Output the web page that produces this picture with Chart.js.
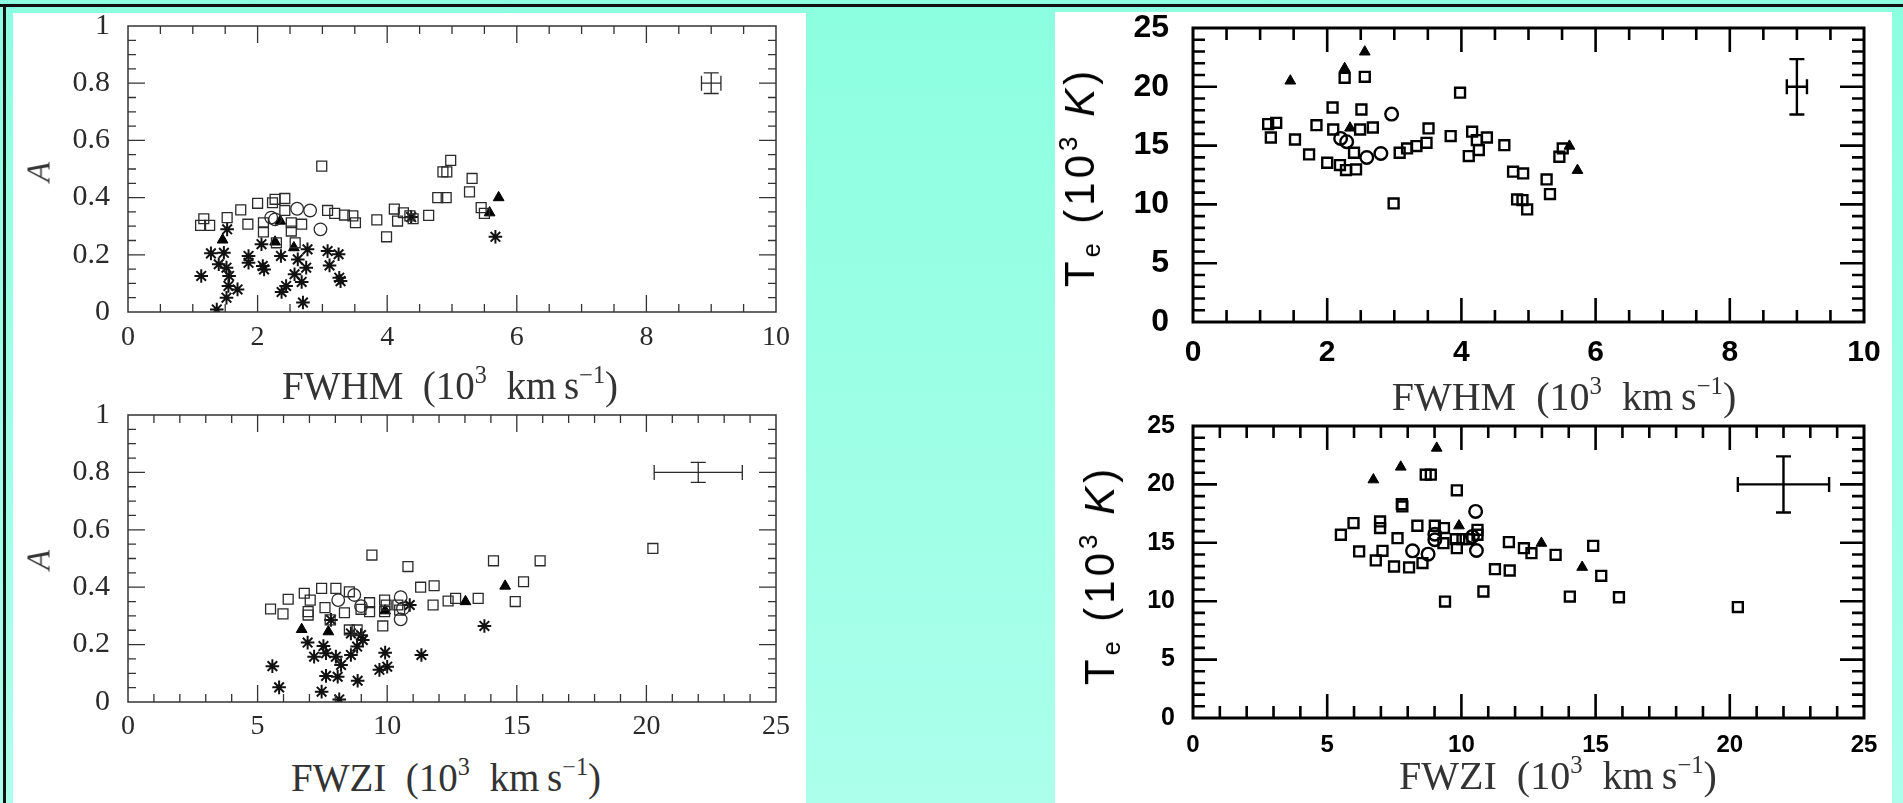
<!DOCTYPE html>
<html>
<head>
<meta charset="utf-8">
<script src="https://cdn.jsdelivr.net/npm/chart.js@4.4.1/dist/chart.umd.min.js"></script>
<style>
  html, body { margin: 0; padding: 0; }
  body { width: 1903px; height: 803px; overflow: hidden; position: relative;
         background: linear-gradient(#8cffe0, #abffeb); }
  .rule { position: absolute; background: #111; }
  .panel { position: absolute; background: #fff; }
  canvas { position: absolute; }
  .t { position: absolute; white-space: nowrap; transform: translate(-50%, -50%); line-height: 1; }
  .serif { font-family: 'Liberation Serif', 'DejaVu Serif', serif; color: #333; font-size: 39px; }
  .sans { font-family: 'Liberation Sans', 'DejaVu Sans', sans-serif; color: #000; font-size: 42px; letter-spacing: 4px; }
  .rot { transform: translate(-50%, -50%) rotate(-90deg); }
  sup { font-size: 0.62em; vertical-align: 0.65em; line-height: 0; }
  sub { font-size: 0.6em; vertical-align: -0.25em; line-height: 0; }
</style>
</head>
<body>
<div class="rule" style="left:0;top:4px;width:1903px;height:3px"></div>
<div class="rule" style="left:3px;top:4px;width:3px;height:799px"></div>
<div class="panel" style="left:13px;top:13px;width:793px;height:790px"></div>
<div class="panel" style="left:1055px;top:12px;width:837px;height:791px"></div>

<canvas id="aFwhm"></canvas>
<canvas id="aFwzi"></canvas>
<canvas id="teFwhm"></canvas>
<canvas id="teFwzi"></canvas>

<div class="t serif" style="left:450px;top:385px">FWHM&ensp;(10<sup>3</sup>&ensp;km&thinsp;s<sup>−1</sup>)</div>
<div class="t serif" style="left:446px;top:777px">FWZI&ensp;(10<sup>3</sup>&ensp;km&thinsp;s<sup>−1</sup>)</div>
<div class="t serif rot" style="left:39px;top:172px;font-style:italic;font-size:33px">A</div>
<div class="t serif rot" style="left:39px;top:560px;font-style:italic;font-size:33px">A</div>
<div class="t serif" style="left:1564px;top:397px;font-size:40px">FWHM&ensp;(10<sup>3</sup>&ensp;km&thinsp;s<sup>−1</sup>)</div>
<div class="t serif" style="left:1558px;top:776px;font-size:40px">FWZI&ensp;(10<sup>3</sup>&ensp;km&thinsp;s<sup>−1</sup>)</div>
<div class="t sans rot" style="left:1080px;top:177px">T<sub>e</sub> (10<sup>3</sup> <i>K</i>)</div>
<div class="t sans rot" style="left:1100px;top:575px">T<sub>e</sub> (10<sup>3</sup> <i>K</i>)</div>

<script>
// ---- data ----
// A versus FWHM
const aFwhmSquares = [[2.99,0.51],[4.98,0.53],[4.86,0.49],[4.92,0.49],[5.31,0.467],[5.27,0.42],[4.78,0.40],[4.91,0.40],
  [5.45,0.365],[5.50,0.345],[4.11,0.36],[4.25,0.347],[4.16,0.318],[4.40,0.326],[4.35,0.336],[4.64,0.338],[3.84,0.322],
  [3.99,0.263],[3.51,0.312],[3.47,0.336],[3.34,0.339],[3.19,0.345],[3.08,0.355],[2.68,0.307],[2.52,0.312],[2.52,0.283],
  [2.58,0.242],[2.42,0.397],[2.27,0.394],[2.23,0.382],[2.42,0.355],[2.09,0.312],[2.09,0.28],[2.0,0.38],[1.74,0.357],
  [1.85,0.307],[1.53,0.33],[1.17,0.326],[1.12,0.303],[1.26,0.303],[2.29,0.242]];
const aFwhmCircles = [[2.61,0.361],[2.81,0.355],[2.97,0.289],[2.21,0.33],[2.27,0.324]];
const aFwhmTriangles = [[1.46,0.252],[2.27,0.245],[2.56,0.225],[2.35,0.318],[5.72,0.40],[5.58,0.347]];
const aFwhmStars = [[1.53,0.289],[1.28,0.205],[1.48,0.207],[1.40,0.167],[1.52,0.155],[1.56,0.126],[1.55,0.091],
  [1.69,0.079],[1.52,0.05],[1.37,0.009],[1.13,0.126],[1.86,0.196],[1.86,0.172],[2.06,0.237],[2.08,0.161],[2.10,0.149],
  [2.36,0.196],[2.62,0.184],[2.77,0.219],[2.75,0.155],[2.57,0.132],[2.68,0.105],[2.44,0.091],[2.37,0.07],[2.70,0.033],
  [3.08,0.213],[3.25,0.202],[3.11,0.163],[3.26,0.12],[3.28,0.108],[4.37,0.332],[5.67,0.263]];

// A versus FWZI
const aFwziSquares = [[9.41,0.512],[10.80,0.472],[14.10,0.492],[15.90,0.492],[15.26,0.419],[14.94,0.35],[13.51,0.361],
  [12.64,0.361],[12.35,0.352],[11.77,0.338],[11.29,0.40],[11.81,0.405],[5.50,0.324],[5.98,0.307],[6.18,0.358],[6.80,0.379],
  [7.03,0.355],[6.95,0.315],[6.95,0.303],[7.47,0.396],[8.02,0.396],[8.54,0.384],[7.60,0.329],[7.80,0.286],[8.35,0.311],
  [9.32,0.346],[9.32,0.315],[8.99,0.323],[9.90,0.355],[9.96,0.338],[9.90,0.315],[9.83,0.265],[10.41,0.338],[10.48,0.32],
  [8.54,0.251],[8.84,0.251],[20.25,0.535]];
const aFwziCircles = [[8.11,0.355],[8.73,0.373],[8.99,0.334],[10.52,0.365],[10.52,0.288],[10.61,0.326]];
const aFwziTriangles = [[6.70,0.253],[7.73,0.245],[13.02,0.35],[14.55,0.404],[9.92,0.318]];
const aFwziStars = [[10.87,0.338],[13.75,0.265],[11.32,0.164],[9.92,0.172],[9.70,0.112],[10.0,0.123],[8.86,0.074],
  [8.15,0.009],[7.47,0.036],[7.64,0.091],[8.09,0.088],[5.57,0.125],[5.83,0.051],[6.93,0.207],[7.18,0.158],[7.54,0.195],
  [7.64,0.17],[8.02,0.158],[8.22,0.129],[8.60,0.164],[8.84,0.193],[9.06,0.216],[8.99,0.233],[8.60,0.239],[7.83,0.286]];

// Te versus FWHM
const teFwhmSquares = [[2.26,20.76],[2.56,20.85],[3.98,19.5],[2.08,18.24],[2.51,18.07],[1.12,16.83],[1.24,16.94],
  [1.16,15.69],[1.84,16.74],[1.52,15.52],[1.73,14.25],[2.09,16.37],[2.49,16.37],[2.68,16.54],[2.0,13.54],[2.19,13.34],
  [2.28,12.92],[2.43,12.97],[2.40,14.39],[3.08,14.39],[3.19,14.76],[3.33,14.96],[3.48,15.24],[3.51,16.46],[3.84,15.81],
  [4.16,16.18],[4.23,15.47],[4.38,15.69],[4.11,14.11],[4.26,14.62],[4.64,15.04],[4.77,12.78],[4.92,12.63],[4.83,10.42],
  [4.91,10.37],[4.98,9.57],[5.27,12.12],[5.32,10.88],[5.46,14.05],[5.51,14.76],[2.99,10.08]];
const teFwhmCircles = [[2.96,17.68],[2.20,15.61],[2.29,15.33],[2.59,13.99],[2.80,14.33]];
const teFwhmTriangles = [[2.56,22.97],[2.26,21.56],[1.45,20.5],[2.34,16.5],[5.61,14.96],[5.73,12.9]];

// Te versus FWZI
const teFwziSquares = [[8.67,20.83],[8.86,20.83],[9.83,19.49],[7.80,18.11],[7.78,18.31],[5.98,16.69],[6.97,16.83],
  [6.97,16.26],[5.51,15.69],[6.19,14.26],[6.81,13.49],[7.06,14.31],[7.62,15.4],[7.49,12.97],[8.05,12.89],[8.36,16.46],
  [8.55,13.26],[9.01,16.46],[9.35,16.26],[9.33,14.97],[9.79,15.31],[9.83,14.54],[10.04,15.31],[10.29,15.31],[10.60,16.11],
  [10.60,15.69],[11.77,15.06],[12.33,14.54],[12.61,14.11],[13.51,13.97],[11.25,12.74],[11.80,12.63],[10.82,10.83],
  [9.39,9.97],[14.91,14.74],[15.21,12.17],[14.04,10.4],[15.87,10.34],[20.3,9.5]];
const teFwziCircles = [[10.53,17.69],[9.01,15.74],[9.01,15.26],[8.18,14.31],[8.76,14.03],[10.56,14.34],[10.41,15.54]];
const teFwziTriangles = [[9.08,23.11],[7.74,21.49],[6.72,20.4],[9.91,16.46],[12.98,14.97],[14.5,12.91]];

// typical error bars: [x, y, dx, dy]
const aFwhmErr = [9, 0.8, 0.15, 0.036];
const aFwziErr = [22, 0.8, 1.7, 0.035];
const teFwhmErr = [9, 20, 0.15, 2.35];
const teFwziErr = [22, 20, 1.7, 2.4];

// tick labels
const fwhmTicks = [0, 2, 4, 6, 8, 10];
const fwziTicks = [0, 5, 10, 15, 20, 25];
const aTicks = [0, 0.2, 0.4, 0.6, 0.8, 1];
const teTicks = [0, 5, 10, 15, 20, 25];

// inward ticks on all four sides plus the box
const frameTicks = {
  id: 'frameTicks',
  afterDatasetsDraw(chart, args, o) {
    const { ctx, chartArea: a, scales: { x, y } } = chart;
    ctx.save();
    ctx.strokeStyle = o.color;
    ctx.lineCap = 'butt';
    const marks = (scale, minor, major, draw) => {
      const n = Math.round((scale.max - scale.min) / minor);
      for (let i = 1; i < n; i++) {
        const v = scale.min + i * minor;
        const isMajor = Math.abs(v / major - Math.round(v / major)) < 1e-6;
        draw(scale.getPixelForValue(v), isMajor ? o.majorLen : o.minorLen);
      }
    };
    ctx.beginPath();
    marks(x, o.xMinor, o.xMajor, (p, len) => {
      ctx.moveTo(p, a.bottom); ctx.lineTo(p, a.bottom - len);
      ctx.moveTo(p, a.top); ctx.lineTo(p, a.top + len);
    });
    marks(y, o.yMinor, o.yMajor, (p, len) => {
      ctx.moveTo(a.left, p); ctx.lineTo(a.left + len, p);
      ctx.moveTo(a.right, p); ctx.lineTo(a.right - len, p);
    });
    ctx.lineWidth = o.tickWidth;
    ctx.stroke();
    ctx.lineWidth = o.width;
    ctx.strokeRect(a.left, a.top, a.right - a.left, a.bottom - a.top);
    ctx.restore();
  }
};

const errorBar = {
  id: 'errorBar',
  afterDatasetsDraw(chart, args, o) {
    if (!o.bar) return;
    const { ctx, scales: { x, y } } = chart;
    const [vx, vy, dx, dy] = o.bar;
    const cx = x.getPixelForValue(vx), cy = y.getPixelForValue(vy);
    const x0 = x.getPixelForValue(vx - dx), x1 = x.getPixelForValue(vx + dx);
    const y0 = y.getPixelForValue(vy - dy), y1 = y.getPixelForValue(vy + dy);
    ctx.save();
    ctx.strokeStyle = o.color;
    ctx.lineWidth = o.width;
    ctx.beginPath();
    ctx.moveTo(x0, cy); ctx.lineTo(x1, cy);
    ctx.moveTo(cx, y0); ctx.lineTo(cx, y1);
    ctx.moveTo(x0, cy - o.cap); ctx.lineTo(x0, cy + o.cap);
    ctx.moveTo(x1, cy - o.cap); ctx.lineTo(x1, cy + o.cap);
    ctx.moveTo(cx - o.cap, y0); ctx.lineTo(cx + o.cap, y0);
    ctx.moveTo(cx - o.cap, y1); ctx.lineTo(cx + o.cap, y1);
    ctx.stroke();
    ctx.restore();
  }
};

const toXY = arr => arr.map(([x, y]) => ({ x, y }));

function makeChart(id, box, c) {
  const M = { l: 110, t: 22, r: 28, b: 50 };
  const cv = document.getElementById(id);
  const w = box.w + M.l + M.r, h = box.h + M.t + M.b;
  cv.width = w; cv.height = h;
  cv.style.width = w + 'px'; cv.style.height = h + 'px';
  cv.style.left = (box.x - M.l) + 'px';
  cv.style.top = (box.y - M.t) + 'px';

  const ink = c.bold ? '#000' : '#2a2a2a';
  const lw = c.bold ? 2.4 : 1.3;
  const sets = [
    { data: toXY(c.squares), pointStyle: 'rect', pointRadius: 7, borderWidth: lw, borderColor: ink, backgroundColor: 'rgba(0,0,0,0)' },
    { data: toXY(c.circles), pointStyle: 'circle', pointRadius: 6.3, borderWidth: lw, borderColor: ink, backgroundColor: 'rgba(0,0,0,0)' },
    { data: toXY(c.triangles), pointStyle: 'triangle', pointRadius: 6.2, borderWidth: 1, borderColor: '#000', backgroundColor: '#000' }
  ];
  if (c.stars) sets.push({ data: toXY(c.stars), pointStyle: 'star', pointRadius: 6.8, borderWidth: 2, borderColor: '#111', backgroundColor: '#111' });

  const font = c.bold
    ? { family: "'Liberation Sans', 'DejaVu Sans', sans-serif", weight: 'bold' }
    : { family: "'Liberation Serif', 'DejaVu Serif', serif" };
  const plain = v => String(v);

  new Chart(cv, {
    type: 'scatter',
    data: { datasets: sets },
    options: {
      responsive: false, animation: false, events: [],
      layout: { padding: { left: 0, top: M.t, right: M.r, bottom: 0 } },
      plugins: {
        legend: { display: false }, tooltip: { enabled: false },
        frameTicks: c.frame,
        errorBar: { bar: c.err, color: ink, width: c.bold ? 2.4 : 1.3, cap: 7.5 }
      },
      scales: {
        x: {
          type: 'linear', min: c.xTicks[0], max: c.xTicks[c.xTicks.length - 1],
          afterBuildTicks: s => { s.ticks = c.xTicks.map(v => ({ value: v })); },
          afterFit: s => { s.height = M.b; s.paddingLeft = 0; s.paddingRight = 0; },
          grid: { display: false, drawTicks: false }, border: { display: false },
          ticks: { callback: plain, padding: c.xPad, color: ink, maxRotation: 0, autoSkip: false, font: Object.assign({ size: c.xSize }, font) }
        },
        y: {
          type: 'linear', min: c.yTicks[0], max: c.yTicks[c.yTicks.length - 1],
          afterBuildTicks: s => { s.ticks = c.yTicks.map(v => ({ value: v })); },
          afterFit: s => { s.width = M.l; s.paddingTop = 0; s.paddingBottom = 0; },
          grid: { display: false, drawTicks: false }, border: { display: false },
          ticks: { callback: plain, padding: c.yPad, color: ink, autoSkip: false, font: Object.assign({ size: c.ySize }, font) }
        }
      }
    },
    plugins: [frameTicks, errorBar]
  });
}

const thinFrame = { color: '#333', width: 1.5, tickWidth: 1.3, majorLen: 17, minorLen: 8 };
const boldFrame = { color: '#000', width: 3, tickWidth: 2.6, majorLen: 24, minorLen: 12 };

makeChart('aFwhm', { x: 128, y: 26, w: 648, h: 286 }, {
  squares: aFwhmSquares, circles: aFwhmCircles, triangles: aFwhmTriangles, stars: aFwhmStars, err: aFwhmErr,
  xTicks: fwhmTicks, yTicks: aTicks, xSize: 28, ySize: 30, xPad: 9, yPad: 18,
  frame: Object.assign({ xMinor: 0.5, xMajor: 2, yMinor: 0.05, yMajor: 0.2 }, thinFrame)
});
makeChart('aFwzi', { x: 128, y: 415, w: 648, h: 287 }, {
  squares: aFwziSquares, circles: aFwziCircles, triangles: aFwziTriangles, stars: aFwziStars, err: aFwziErr,
  xTicks: fwziTicks, yTicks: aTicks, xSize: 28, ySize: 30, xPad: 8, yPad: 18,
  frame: Object.assign({ xMinor: 1, xMajor: 5, yMinor: 0.05, yMajor: 0.2 }, thinFrame)
});
makeChart('teFwhm', { x: 1193, y: 28, w: 671, h: 294 }, {
  bold: true, squares: teFwhmSquares, circles: teFwhmCircles, triangles: teFwhmTriangles, err: teFwhmErr,
  xTicks: fwhmTicks, yTicks: teTicks, xSize: 30, ySize: 32, xPad: 13, yPad: 24,
  frame: Object.assign({ xMinor: 0.5, xMajor: 2, yMinor: 1, yMajor: 5 }, boldFrame)
});
makeChart('teFwzi', { x: 1193, y: 426, w: 671, h: 292 }, {
  bold: true, squares: teFwziSquares, circles: teFwziCircles, triangles: teFwziTriangles, err: teFwziErr,
  xTicks: fwziTicks, yTicks: teTicks, xSize: 24, ySize: 25, xPad: 13, yPad: 18,
  frame: Object.assign({ xMinor: 1, xMajor: 5, yMinor: 1, yMajor: 5 }, boldFrame)
});
</script>
</body>
</html>
